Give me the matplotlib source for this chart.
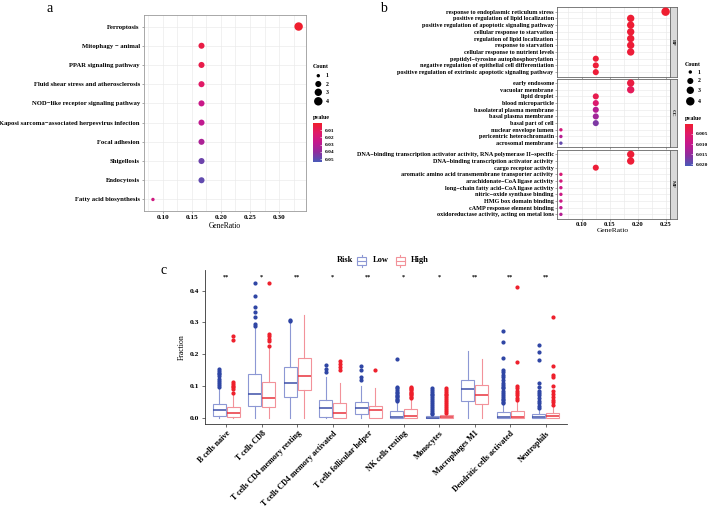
import numpy as np
import matplotlib
matplotlib.use("Agg")
import matplotlib.pyplot as plt
from matplotlib.colors import LinearSegmentedColormap, Normalize
from matplotlib.patches import Rectangle

plt.rcParams["font.family"] = ["Liberation Serif", "DejaVu Serif"]
plt.rcParams["font.weight"] = "bold"

W, H = 709, 508

# ── data: panel a (KEGG) ─────────────────────────────────────────────────────
kegg_terms = ["Ferroptosis", "Mitophagy − animal", "PPAR signaling pathway",
              "Fluid shear stress and atherosclerosis",
              "NOD−like receptor signaling pathway",
              "Kaposi sarcoma−associated herpesvirus infection",
              "Focal adhesion", "Shigellosis", "Endocytosis",
              "Fatty acid biosynthesis"]
kegg_ratio = [4/12, 2/12, 2/12, 2/12, 2/12, 2/12, 2/12, 2/12, 2/12, 1/12]
kegg_count = [4, 2, 2, 2, 2, 2, 2, 2, 2, 1]
kegg_p = [0.001, 0.006, 0.007, 0.013, 0.025, 0.028, 0.033, 0.047, 0.049, 0.022]

# ── data: panel b (GO) ───────────────────────────────────────────────────────
bp_terms = ["response to endoplasmic reticulum stress",
            "positive regulation of lipid localization",
            "positive regulation of apoptotic signaling pathway",
            "cellular response to starvation",
            "regulation of lipid localization",
            "response to starvation",
            "cellular response to nutrient levels",
            "peptidyl−tyrosine autophosphorylation",
            "negative regulation of epithelial cell differentiation",
            "positive regulation of extrinsic apoptotic signaling pathway"]
bp_count = [4, 3, 3, 3, 3, 3, 3, 2, 2, 2]
bp_p = [0.0005, 0.0008, 0.0009, 0.0010, 0.0010, 0.0011, 0.0012, 0.0010, 0.0011, 0.0012]

cc_terms = ["early endosome", "vacuolar membrane", "lipid droplet",
            "blood microparticle", "basolateral plasma membrane",
            "basal plasma membrane", "basal part of cell",
            "nuclear envelope lumen", "pericentric heterochromatin",
            "acrosomal membrane"]
cc_count = [3, 3, 2, 2, 2, 2, 2, 1, 1, 1]
cc_p = [0.002, 0.004, 0.003, 0.006, 0.012, 0.014, 0.017, 0.008, 0.012, 0.019]

mf_terms = ["DNA−binding transcription activator activity, RNA polymerase II−specific",
            "DNA−binding transcription activator activity",
            "cargo receptor activity",
            "aromatic amino acid transmembrane transporter activity",
            "arachidonate−CoA ligase activity",
            "long−chain fatty acid−CoA ligase activity",
            "nitric−oxide synthase binding",
            "HMG box domain binding",
            "cAMP response element binding",
            "oxidoreductase activity, acting on metal ions"]
mf_count = [3, 3, 2, 1, 1, 1, 1, 1, 1, 1]
mf_p = [0.001, 0.001, 0.001, 0.007, 0.008, 0.009, 0.009, 0.009, 0.011, 0.012]
go_total = 16

# ── data: panel c (immune cell fractions) ───────────────────────────────────
cells = ["B cells naive", "T cells CD8", "T cells CD4 memory resting",
         "T cells CD4 memory activated", "T cells follicular helper",
         "NK cells resting", "Monocytes", "Macrophages M1",
         "Dendritic cells activated", "Neutrophils"]
signif = ["**", "*", "**", "*", "**", "*", "*", "**", "**", "**"]

low_whislo = [0, 0, 0, 0, 0, 0, 0, 0, 0, 0]
low_q1 = [0.006, 0.036, 0.065, 0.003, 0.010, 0.0, 0.0, 0.053, 0.0, 0.0]
low_med = [0.023, 0.076, 0.108, 0.029, 0.031, 0.002, 0.0, 0.089, 0.001, 0.001]
low_q3 = [0.042, 0.136, 0.160, 0.057, 0.049, 0.020, 0.004, 0.120, 0.017, 0.010]
low_whishi = [0.095, 0.283, 0.300, 0.128, 0.099, 0.048, 0.008, 0.210, 0.040, 0.025]
low_fliers = [
    [0.097, 0.102, 0.110, 0.116, 0.123, 0.131, 0.136, 0.142, 0.147, 0.152],
    [0.290, 0.296, 0.316, 0.332, 0.350, 0.383, 0.423],
    [0.304, 0.306],
    [0.144, 0.152, 0.167],
    [0.118, 0.128, 0.149, 0.163],
    [0.052, 0.056, 0.060, 0.064, 0.068, 0.072, 0.077, 0.082, 0.087, 0.092, 0.098, 0.184],
    [0.010, 0.016, 0.022, 0.028, 0.034, 0.040, 0.046, 0.052, 0.058, 0.064, 0.070,
     0.076, 0.082, 0.088, 0.092],
    [],
    [0.045, 0.050, 0.055, 0.060, 0.065, 0.072, 0.078, 0.084, 0.092, 0.098, 0.103,
     0.110, 0.120, 0.128, 0.135, 0.145, 0.150, 0.189, 0.238, 0.272],
    [0.030, 0.038, 0.045, 0.053, 0.063, 0.071, 0.078, 0.085, 0.097, 0.108,
     0.183, 0.207, 0.228],
]

high_whislo = [0, 0, 0, 0, 0, 0, 0, 0, 0, 0]
high_q1 = [0.002, 0.033, 0.086, 0.0, 0.0, 0.0, 0.0, 0.042, 0.0, 0.0]
high_med = [0.014, 0.063, 0.132, 0.016, 0.023, 0.005, 0.001, 0.070, 0.003, 0.005]
high_q3 = [0.033, 0.111, 0.188, 0.045, 0.038, 0.026, 0.008, 0.104, 0.022, 0.016]
high_whishi = [0.071, 0.220, 0.322, 0.108, 0.092, 0.060, 0.014, 0.186, 0.050, 0.034]
high_fliers = [
    [0.079, 0.089, 0.095, 0.100, 0.107, 0.112, 0.244, 0.258],
    [0.227, 0.241, 0.248, 0.256, 0.263, 0.425],
    [],
    [0.149, 0.160, 0.170, 0.179],
    [0.151],
    [0.062, 0.066, 0.070, 0.074, 0.078, 0.082, 0.086, 0.090, 0.094, 0.097],
    [0.016, 0.022, 0.028, 0.034, 0.040, 0.046, 0.052, 0.058, 0.064, 0.070, 0.076,
     0.082, 0.088, 0.092],
    [],
    [0.055, 0.062, 0.070, 0.078, 0.085, 0.092, 0.099, 0.174, 0.410],
    [0.040, 0.048, 0.056, 0.064, 0.075, 0.085, 0.100, 0.128, 0.134, 0.163, 0.318],
]

# ── styles ───────────────────────────────────────────────────────────────────
CMAP = LinearSegmentedColormap.from_list(
    "pv", ["#F01E2C", "#E01A6A", "#C4188E", "#8F2E9E", "#4A5AB8"])
LOW_EDGE, LOW_MED, LOW_PT = "#8D98D4", "#3D50A8", "#2E45A4"
HIGH_EDGE, HIGH_MED, HIGH_PT = "#F2929A", "#E8323C", "#EE1F2B"
GRID = "#EBEBEB"


def size_of(c):
    return {1: 6, 2: 19, 3: 28, 4: 37}[c]


def px_box(x0, y0, x1, y1):
    return [x0 / W, 1 - y1 / H, (x1 - x0) / W, (y1 - y0) / H]


fig = plt.figure(figsize=(W / 100, H / 100), dpi=100, facecolor="white")

# ── panel a ──────────────────────────────────────────────────────────────────
axa = fig.add_axes(px_box(144, 15, 306, 211))
norm_a = Normalize(0.0005, 0.0537)
ya = np.arange(len(kegg_terms))
axa.scatter(kegg_ratio, ya, s=[size_of(c) for c in kegg_count],
            c=kegg_p, cmap=CMAP, norm=norm_a, zorder=3, linewidths=0)
axa.set_yticks(ya)
axa.set_yticklabels(kegg_terms, fontsize=4.8)
axa.set_ylim(len(kegg_terms) - 0.4, -0.6)
axa.set_xlim(0.068, 0.346)
axa.set_xticks([0.10, 0.15, 0.20, 0.25, 0.30])
axa.set_xticklabels(["0.10", "0.15", "0.20", "0.25", "0.30"], fontsize=5.2)
axa.set_xticks([0.075, 0.125, 0.175, 0.225, 0.275, 0.325], minor=True)
axa.grid(True, which="both", color=GRID, lw=0.5, zorder=0)
axa.tick_params(which="minor", length=0)
axa.tick_params(length=1.5, width=0.4, color="#666", pad=1.5)
axa.set_xlabel("GeneRatio", fontsize=5.5, labelpad=1)
for sp in axa.spines.values():
    sp.set_color("#9A9A9A")
    sp.set_linewidth(0.6)
axa.set_axisbelow(True)

# ── panel b ──────────────────────────────────────────────────────────────────
norm_b = Normalize(0.0001, 0.021)
facets = [("BP", bp_terms, bp_count, bp_p, 7.3, 76.5),
          ("CC", cc_terms, cc_count, cc_p, 78.7, 147.5),
          ("MF", mf_terms, mf_count, mf_p, 150.0, 218.7)]
for k, (name, terms, counts, pv, y0, y1) in enumerate(facets):
    ax = fig.add_axes(px_box(556.7, y0, 669.5, y1))
    yy = np.arange(len(terms))
    ratio = [c / go_total for c in counts]
    ax.scatter(ratio, yy, s=[size_of(c) for c in counts], c=pv,
               cmap=CMAP, norm=norm_b, zorder=3, linewidths=0)
    ax.set_yticks(yy)
    ax.set_yticklabels(terms, fontsize=4.4)
    ax.set_ylim(len(terms) - 0.35, -0.65)
    ax.set_xlim(0.055, 0.257)
    ax.set_xticks([0.10, 0.15, 0.20, 0.25])
    ax.set_xticks([0.075, 0.125, 0.175, 0.225], minor=True)
    ax.grid(True, which="both", color=GRID, lw=0.5, zorder=0)
    ax.tick_params(which="minor", length=0)
    ax.tick_params(length=1.2, width=0.4, color="#666", pad=1)
    ax.set_axisbelow(True)
    for sp in ax.spines.values():
        sp.set_color("#666")
        sp.set_linewidth(0.6)
    if k < 2:
        ax.set_xticklabels([])
    else:
        ax.set_xticklabels(["0.10", "0.15", "0.20", "0.25"], fontsize=4.8)
        ax.set_xlabel("GeneRatio", fontsize=5.4, labelpad=1)
    st = fig.add_axes(px_box(669.5, y0, 677, y1))
    st.set_facecolor("#D9D9D9")
    st.set_xticks([]); st.set_yticks([])
    for sp in st.spines.values():
        sp.set_color("#666")
        sp.set_linewidth(0.6)
    st.text(0.5, 0.5, name, rotation=270, ha="center", va="center",
            fontsize=3.8, color="#1a1a1a", transform=st.transAxes)

# ── panel c ──────────────────────────────────────────────────────────────────
axc = fig.add_axes(px_box(205, 270, 567, 424))
xc = np.arange(1, len(cells) + 1)


def stats(i, lo, q1, med, q3, hi, fl):
    return dict(whislo=lo[i], q1=q1[i], med=med[i], q3=q3[i], whishi=hi[i],
                fliers=fl[i])


low_stats = [stats(i, low_whislo, low_q1, low_med, low_q3, low_whishi, low_fliers)
             for i in range(len(cells))]
high_stats = [stats(i, high_whislo, high_q1, high_med, high_q3, high_whishi, high_fliers)
              for i in range(len(cells))]

for st_list, off, edge, medc, ptc in [(low_stats, -0.2, LOW_EDGE, LOW_MED, LOW_PT),
                                      (high_stats, 0.2, HIGH_EDGE, HIGH_MED, HIGH_PT)]:
    axc.bxp(st_list, positions=xc + off, widths=0.37, showcaps=False,
            patch_artist=True, manage_ticks=False,
            boxprops=dict(facecolor="white", edgecolor=edge, lw=0.8),
            whiskerprops=dict(color=edge, lw=0.8),
            medianprops=dict(color=medc, lw=1.1),
            flierprops=dict(marker="o", markerfacecolor=ptc, markeredgecolor=ptc,
                            markersize=2.0, lw=0))

for x, s in zip(xc, signif):
    axc.text(x, 0.443, s, ha="center", va="center", fontsize=4.5)

axc.set_xlim(0.4, 10.6)
axc.set_ylim(-0.02, 0.465)
axc.set_xticks(xc)
axc.set_xticklabels(cells, rotation=45, ha="right", rotation_mode="anchor",
                    fontsize=5.8)
axc.set_yticks([0.0, 0.1, 0.2, 0.3, 0.4])
axc.set_yticklabels(["0.0", "0.1", "0.2", "0.3", "0.4"], fontsize=5.4)
axc.tick_params(length=2, width=0.5, color="#333", pad=2)
axc.set_ylabel("Fraction", fontsize=5.6, labelpad=3)
for sp in ["top", "right"]:
    axc.spines[sp].set_visible(False)
for sp in ["left", "bottom"]:
    axc.spines[sp].set_color("#333")
    axc.spines[sp].set_linewidth(0.6)

# ── legends, panel letters (pixel overlay) ───────────────────────────────────
ov = fig.add_axes([0, 0, 1, 1])
ov.set_xlim(0, W); ov.set_ylim(H, 0)
ov.axis("off")

counts_legend = [1, 2, 3, 4]
for (tx, ty, dots_y, cb_box, norm, cb_ticks, cb_lbls) in [
        (313, 67, [75.7, 84, 92.3, 101.3], (313.3, 123.3, 321.7, 161.7), norm_a,
         [0.01, 0.02, 0.03, 0.04, 0.05], ["0.01", "0.02", "0.03", "0.04", "0.05"]),
        (685, 64.5, [72, 81, 90.3, 101.3], (685, 124, 692.7, 166.5), norm_b,
         [0.005, 0.010, 0.015, 0.020], ["0.005", "0.010", "0.015", "0.020"])]:
    ov.text(tx, ty, "Count", fontsize=4.3, ha="left", va="center")
    ov.scatter([tx + 5.3] * 4, dots_y, s=[size_of(c) for c in counts_legend],
               color="black", linewidths=0)
    for yv, c in zip(dots_y, counts_legend):
        ov.text(tx + 13, yv, str(c), fontsize=4.2, ha="left", va="center")
    ov.text(tx, cb_box[1] - 5.5, "pvalue", fontsize=4.3, ha="left", va="center")
    cax = fig.add_axes(px_box(*cb_box))
    grad = np.linspace(norm.vmin, norm.vmax, 200)[:, None]
    cax.imshow(grad, aspect="auto", cmap=CMAP, norm=norm,
               extent=[0, 1, norm.vmax, norm.vmin])
    cax.set_xticks([])
    cax.yaxis.tick_right()
    cax.set_yticks(cb_ticks)
    cax.set_yticklabels(cb_lbls, fontsize=3.9)
    cax.tick_params(axis="y", length=1.5, width=0.4, color="white", pad=2,
                    direction="in")
    for sp in cax.spines.values():
        sp.set_visible(False)

# Risk legend
ov.text(337, 260.5, "Risk", fontsize=6, ha="left", va="center")
for kx, lbl, edge, medc in [(357.3, "Low", LOW_EDGE, LOW_MED),
                            (395.7, "High", HIGH_EDGE, HIGH_MED)]:
    ov.add_patch(Rectangle((kx, 257), 9, 7.5, facecolor="white",
                           edgecolor=edge, lw=0.8))
    ov.plot([kx, kx + 9], [260.7, 260.7], color=edge, lw=0.8)
    ov.plot([kx + 4.5, kx + 4.5], [254.5, 257], color=edge, lw=0.8)
    ov.plot([kx + 4.5, kx + 4.5], [264.5, 267], color=edge, lw=0.8)
    ov.text(kx + 15.5, 260.5, lbl, fontsize=6, ha="left", va="center")

for x, y, s in [(50, 8, "a"), (383, 8, "b"), (164, 270, "c")]:
    ov.text(x, y, s, fontsize=10, ha="center", va="center", fontweight="normal")

fig.savefig("out.png", dpi=100, facecolor="white")
